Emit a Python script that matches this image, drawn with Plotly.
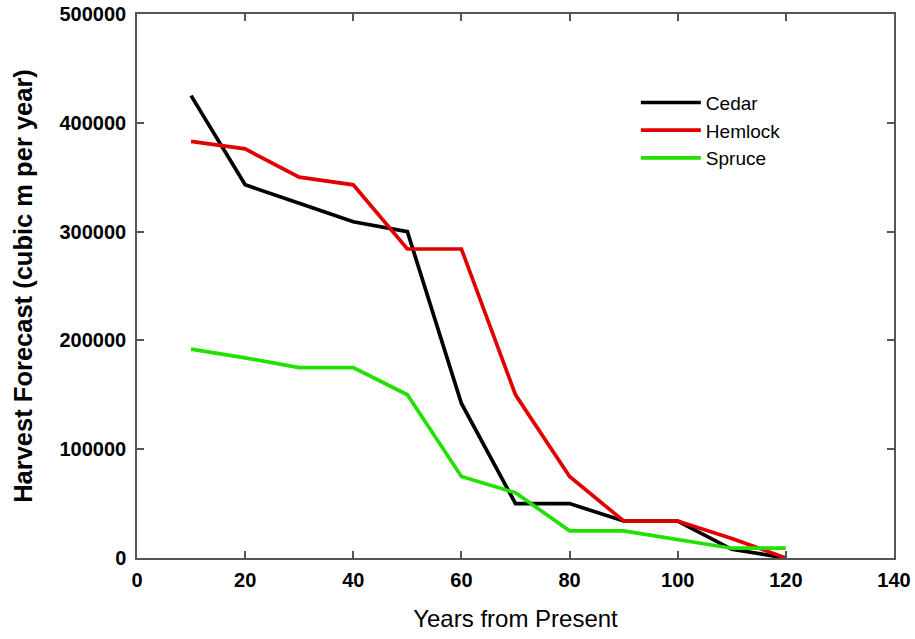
import plotly.graph_objects as go

years = [10, 20, 30, 40, 50, 60, 70, 80, 90, 100, 110, 120]
cedar = [425000, 343000, 326000, 309000, 300000, 142000, 50000, 50000, 34000, 34000, 8000, 0]
hemlock = [383000, 376000, 350000, 343000, 284000, 284000, 150000, 75000, 34000, 34000, 18000, 0]
spruce = [192000, 184000, 175000, 175000, 150000, 75000, 60000, 25000, 25000, 17000, 9000, 9000]

x_ticks = [0, 20, 40, 60, 80, 100, 120, 140]
y_ticks = [0, 100000, 200000, 300000, 400000, 500000]

series = [("Cedar", cedar, "#000000"), ("Hemlock", hemlock, "#e00000"), ("Spruce", spruce, "#22e000")]

fig = go.Figure()
for name, vals, col in series:
    fig.add_trace(go.Scatter(x=years, y=vals, mode="lines", name=name,
                             line=dict(color=col, width=3.7)))

axis_common = dict(showline=True, linecolor="#555555", linewidth=1.5, mirror="allticks",
                   ticks="inside", ticklen=7, tickcolor="#555555", tickwidth=1.5,
                   showgrid=False, zeroline=False, automargin=False,
                   tickfont=dict(family="Liberation Sans", size=20, color="#000000", weight="bold"))

fig.update_layout(
    width=915, height=639,
    margin=dict(l=137, r=21, t=14, b=81),
    plot_bgcolor="white", paper_bgcolor="white",
    font=dict(family="Liberation Sans", color="#000000"),
    xaxis=dict(range=[0, 140], tickvals=x_ticks, ticklabelstandoff=3,
               title=dict(text="Years from Present", font=dict(size=24, family="Liberation Sans"), standoff=20),
               **axis_common),
    yaxis=dict(range=[0, 500000], tickvals=y_ticks, ticklabelstandoff=5,
               tickformat="d",
               title=dict(text="Harvest Forecast (cubic m per year)",
                          font=dict(size=25.5, family="Liberation Sans", weight="bold"), standoff=20),
               **axis_common),
    legend=dict(x=0.659, y=0.872, xanchor="left", yanchor="top", bgcolor="rgba(0,0,0,0)",
                font=dict(size=19, family="Liberation Sans"), tracegroupgap=0, itemwidth=60),
    showlegend=True,
)

fig.write_html("out.html", config={"displayModeBar": False},
               post_script="document.body.style.margin='0';document.body.style.overflow='hidden';")
